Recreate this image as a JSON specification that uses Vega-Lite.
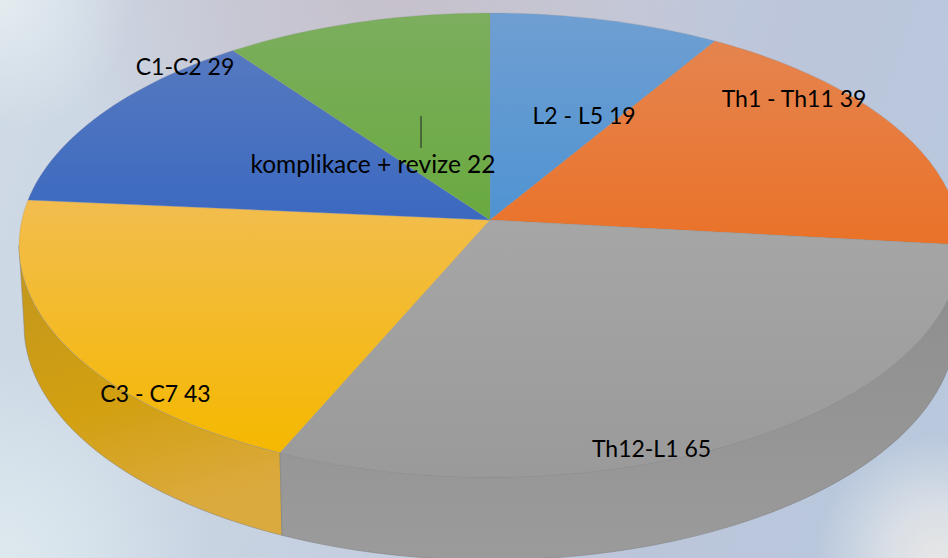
{"$schema":"https://vega.github.io/schema/vega-lite/v6.json","width":948,"height":558,"padding":0,"autosize":"none","view":{"stroke":null},
"datasets":{"slices":[{"name":"L2 - L5","value":19,"cx":0,"cy":0,"lx":94,"ly":-103},{"name":"Th1 - Th11","value":39,"cx":0,"cy":0,"lx":304,"ly":-120},{"name":"Th12-L1","value":65,"cx":0,"cy":0,"lx":161.5,"ly":230},{"name":"C3 - C7","value":43,"cx":0,"cy":0,"lx":-334.5,"ly":175},{"name":"C1-C2","value":29,"cx":0,"cy":0,"lx":-305,"ly":-152},{"name":"komplikace + revize","value":22,"cx":0,"cy":0,"lx":-117,"ly":-54}],
"frame":[{"x0":-490,"x1":458,"y0":-220,"y1":338}],"leader":[{"name":"komplikace + revize","x":-69,"y":-104,"y2":-72}]},
"encoding":{"x":{"field":"cx","type":"quantitative","axis":null,"scale":{"domain":[-490,458],"nice":false,"zero":false}},"y":{"field":"cy","type":"quantitative","axis":null,"scale":{"domain":[338,-220],"nice":false,"zero":false}}},
"layer":[
{"data":{"name":"frame"},"mark":{"type":"rect","fill":{"gradient":"linear","x1":0,"y1":0.3,"x2":1,"y2":0.5,"stops":[{"offset":0,"color":"#ced9e5"},{"offset":0.35,"color":"#c8d3e2"},{"offset":0.75,"color":"#bcc5da"},{"offset":1,"color":"#b9c8dd"}]}},"encoding":{"x":{"field":"x0","type":"quantitative"},"x2":{"field":"x1"},"y":{"field":"y0","type":"quantitative"},"y2":{"field":"y1"}}},
{"data":{"name":"frame"},"mark":{"type":"rect","fill":{"gradient":"radial","x1":0.42,"y1":0.19,"r1":0,"x2":0.42,"y2":0.19,"r2":0.36,"stops":[{"offset":0,"color":"rgba(198,192,202,1)"},{"offset":0.5,"color":"rgba(198,194,206,0.7)"},{"offset":1,"color":"rgba(198,194,206,0)"}]}},"encoding":{"x":{"field":"x0","type":"quantitative"},"x2":{"field":"x1"},"y":{"field":"y0","type":"quantitative"},"y2":{"field":"y1"}}},
{"data":{"name":"frame"},"mark":{"type":"rect","fill":{"gradient":"radial","x1":0,"y1":0.206,"r1":0,"x2":0,"y2":0.206,"r2":0.14,"stops":[{"offset":0,"color":"rgba(228,236,240,1)"},{"offset":1,"color":"rgba(228,236,240,0)"}]}},"encoding":{"x":{"field":"x0","type":"quantitative"},"x2":{"field":"x1"},"y":{"field":"y0","type":"quantitative"},"y2":{"field":"y1"}}},
{"data":{"name":"frame"},"mark":{"type":"rect","fill":{"gradient":"radial","x1":0.99,"y1":0.794,"r1":0,"x2":0.99,"y2":0.794,"r2":0.13,"stops":[{"offset":0,"color":"rgba(230,230,230,1)"},{"offset":0.4,"color":"rgba(226,229,232,0.8)"},{"offset":1,"color":"rgba(222,228,232,0)"}]}},"encoding":{"x":{"field":"x0","type":"quantitative"},"x2":{"field":"x1"},"y":{"field":"y0","type":"quantitative"},"y2":{"field":"y1"}}},
{"data":{"name":"frame"},"mark":{"type":"rect","fill":{"gradient":"radial","x1":0,"y1":0.794,"r1":0,"x2":0,"y2":0.794,"r2":0.22,"stops":[{"offset":0,"color":"rgba(222,233,238,1)"},{"offset":0.4,"color":"rgba(218,230,237,0.8)"},{"offset":1,"color":"rgba(216,228,236,0)"}]}},"encoding":{"x":{"field":"x0","type":"quantitative"},"x2":{"field":"x1"},"y":{"field":"y0","type":"quantitative"},"y2":{"field":"y1"}}},
{"data":{"name":"slices"},"transform":[{"filter":"datum.name==='C3 - C7'"}],"mark":{"type":"point","filled":true,"opacity":1,"size":4,"strokeWidth":0.6,"stroke":"#928a78","shape":"M-210,232.7A471,232,0,0,1,-471,25L-466,105A466,235,0,0,0,-208,315.3Z","fill":{"gradient":"linear","x1":0,"y1":0,"x2":0.25,"y2":1,"stops":[{"offset":0,"color":"#c29620"},{"offset":0.6,"color":"#d2a010"},{"offset":1,"color":"#dbaa3e"}]}}},
{"data":{"name":"slices"},"transform":[{"filter":"datum.name==='Th12-L1'"}],"mark":{"type":"point","filled":true,"opacity":1,"size":4,"strokeWidth":0.6,"stroke":"#808080","shape":"M-210,232.7A471,232,0,0,0,471,25L466,105A466,235,0,0,1,-208,315.3Z","fill":{"gradient":"linear","x1":0,"y1":0,"x2":0,"y2":1,"stops":[{"offset":0,"color":"#8d8d8d"},{"offset":1,"color":"#9b9b9b"}]}}},
{"data":{"name":"slices"},"transform":[{"filter":"datum.name==='L2 - L5'"}],"mark":{"type":"point","filled":true,"opacity":1,"size":4,"strokeWidth":0.3,"stroke":"#8a94a0","shape":"M0,0L0,-207A471,232,0,0,1,225,-179Z","fill":{"gradient":"linear","x1":0,"y1":0,"x2":0,"y2":1,"stops":[{"offset":0,"color":"#6f9fd2"},{"offset":1,"color":"#4f93d2"}]}}},
{"data":{"name":"slices"},"transform":[{"filter":"datum.name==='Th1 - Th11'"}],"mark":{"type":"point","filled":true,"opacity":1,"size":4,"strokeWidth":0.3,"stroke":"#8d8d8d","shape":"M0,0L225,-179A471,232,0,0,1,471,25Z","fill":{"gradient":"linear","x1":0,"y1":0,"x2":0,"y2":1,"stops":[{"offset":0,"color":"#e5844f"},{"offset":1,"color":"#ea7228"}]}}},
{"data":{"name":"slices"},"transform":[{"filter":"datum.name==='Th12-L1'"}],"mark":{"type":"point","filled":true,"opacity":1,"size":4,"strokeWidth":0.3,"stroke":"#909090","shape":"M0,0L471,25A471,232,0,0,1,-210,232.7Z","fill":{"gradient":"linear","x1":0,"y1":0,"x2":0,"y2":1,"stops":[{"offset":0,"color":"#a6a6a6"},{"offset":1,"color":"#9a9a9a"}]}}},
{"data":{"name":"slices"},"transform":[{"filter":"datum.name==='C3 - C7'"}],"mark":{"type":"point","filled":true,"opacity":1,"size":4,"strokeWidth":0.3,"stroke":"#a09a88","shape":"M0,0L-210,232.7A471,232,0,0,1,-462,-20Z","fill":{"gradient":"linear","x1":0,"y1":0,"x2":0,"y2":1,"stops":[{"offset":0,"color":"#f2bd4f"},{"offset":1,"color":"#f5b800"}]}}},
{"data":{"name":"slices"},"transform":[{"filter":"datum.name==='C1-C2'"}],"mark":{"type":"point","filled":true,"opacity":1,"size":4,"strokeWidth":0.3,"stroke":"#8a90a0","shape":"M0,0L-462,-20A471,232,0,0,1,-257,-169.4Z","fill":{"gradient":"linear","x1":0,"y1":0,"x2":0,"y2":1,"stops":[{"offset":0,"color":"#5679c0"},{"offset":1,"color":"#3b69c0"}]}}},
{"data":{"name":"slices"},"transform":[{"filter":"datum.name==='komplikace + revize'"}],"mark":{"type":"point","filled":true,"opacity":1,"size":4,"strokeWidth":0.3,"stroke":"#8a9a88","shape":"M0,0L-257,-169.4A471,232,0,0,1,0,-207Z","fill":{"gradient":"linear","x1":0,"y1":0,"x2":0,"y2":1,"stops":[{"offset":0,"color":"#7cae5e"},{"offset":1,"color":"#69aa3f"}]}}},
{"data":{"name":"leader"},"mark":{"type":"rule","color":"#222","strokeWidth":1},"encoding":{"x":{"field":"x","type":"quantitative"},"y":{"field":"y","type":"quantitative"},"y2":{"field":"y2"}}},
{"data":{"name":"slices"},"transform":[{"filter":"datum.name!=='komplikace + revize'"},{"calculate":"datum.name+' '+datum.value","as":"label"}],"mark":{"type":"text","font":"Lato","fontSize":23,"color":"#000","align":"center","baseline":"middle"},"encoding":{"x":{"field":"lx","type":"quantitative"},"y":{"field":"ly","type":"quantitative"},"text":{"field":"label"}}},
{"data":{"name":"slices"},"transform":[{"filter":"datum.name==='komplikace + revize'"},{"calculate":"datum.name+' '+datum.value","as":"label"}],"mark":{"type":"text","font":"Lato","fontSize":24.5,"color":"#000","align":"center","baseline":"middle"},"encoding":{"x":{"field":"lx","type":"quantitative"},"y":{"field":"ly","type":"quantitative"},"text":{"field":"label"}}}
]}
